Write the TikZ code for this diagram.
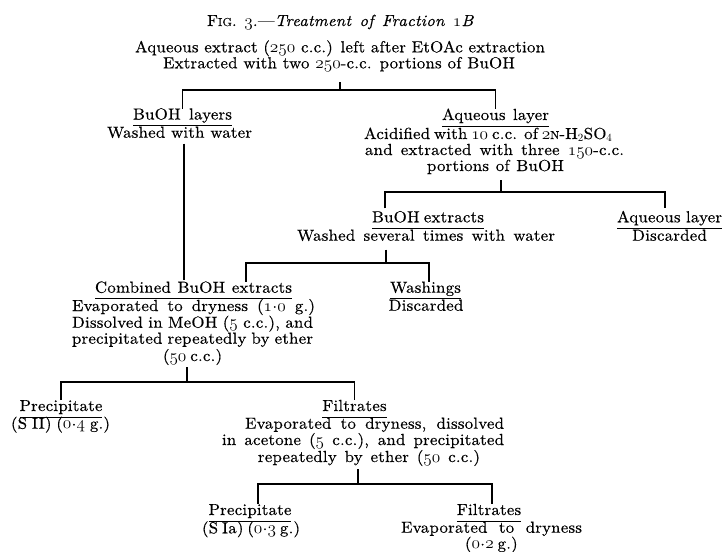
\documentclass[tikz,border=0pt]{standalone}
\usepackage{fontspec}
\newfontfamily\lmwide{lmroman10-regular.otf}[ItalicFont=lmroman10-italic.otf, FakeStretch=1.05, LetterSpace=1.5, FakeBold=0.4]
\newcommand\fs{\lmwide\fontsize{16}{16}\selectfont}
\newcommand\osn[1]{{\fontencoding{OML}\fontfamily{lmm}\fontseries{m}\fontshape{it}\selectfont #1}}
\newcommand\smc[1]{{\fontsize{11.5}{11.5}\selectfont #1}}
\newcommand\cdt{\kern0.3pt\raisebox{0.2em}{.}\kern0.3pt}
\newcommand\sline[2]{\makebox[#1pt][s]{#2}}
\tikzset{
  txt/.style={font=\fs, inner sep=0pt, outer sep=0pt, anchor=base, text height=11pt, text depth=4pt},
  conn/.style={line width=1.4pt},
  ul/.style={line width=0.9pt},
}
\begin{document}
\begin{tikzpicture}[x=1pt,y=-1pt]
\path[fill=white, use as bounding box] (0,0) rectangle (724,552);
% texts
\node[txt] (title) at (340.5,26) {\sline{267}{F\smc{IG}. \osn{3}.—\textit{Treatment of Fraction} \osn{1}\textit{B}}};
\node[txt] (t1) at (340,52.3) {\sline{410}{Aqueous extract (\osn{250} c.c.) left after EtOAc extraction}};
\node[txt] (t2) at (339,68.3) {\sline{352}{Extracted with two \osn{250}-c.c. portions of BuOH}};
\node[txt] (hBL) at (182.5,119.5) {\sline{99}{BuOH layers}};
\node[txt] (wL) at (179.5,137.7) {\sline{145}{Washed with water}};
\node[txt] (hAL) at (495.5,120) {\sline{107}{Aqueous layer}};
\node[txt] (a1) at (486.5,139) {\sline{245}{Acidified with \osn{10} c.c. of \osn{2}\smc{N}-H$_2$SO$_4$}};
\node[txt] (a2) at (494.5,155) {\sline{259}{and extracted with three \osn{150}-c.c.}};
\node[txt] (a3) at (495.5,171) {\sline{137}{portions of BuOH}};
\node[txt] (hBE) at (428,222.3) {\sline{112}{BuOH extracts}};
\node[txt] (bE) at (426,240.7) {\sline{258}{Washed several times with water}};
\node[txt] (hAR) at (669.5,222.3) {\sline{105}{Aqueous layer}};
\node[txt] (dR) at (669.5,240.7) {Discarded};
\node[txt] (hCB) at (193.5,292.7) {\sline{197}{Combined BuOH extracts}};
\node[txt] (c1) at (193.5,311) {\sline{243}{Evaporated to dryness (\osn{1}\cdt\osn{0} g.)}};
\node[txt] (c2) at (192.5,327.7) {\sline{241}{Dissolved in MeOH (\osn{5} c.c.), and}};
\node[txt] (c3) at (192.5,343.7) {\sline{241}{precipitated repeatedly by ether}};
\node[txt] (c4) at (191.5,361) {\sline{57}{(\osn{50} c.c.)}};
\node[txt] (hW) at (425.5,292.7) {Washings};
\node[txt] (dW) at (426,310.7) {Discarded};
\node[txt] (hP1) at (61,411) {Precipitate};
\node[txt] (p1) at (60.5,428.7) {\sline{99}{(S II) (\osn{0}\cdt\osn{4} g.)}};
\node[txt] (hF1) at (354.5,411) {Filtrates};
\node[txt] (f1) at (374.5,428.7) {\sline{259}{Evaporated to dryness, dissolved}};
\node[txt] (f2) at (363,445) {\sline{282}{in acetone (\osn{5} c.c.), and precipitated}};
\node[txt] (f3) at (369,462) {\sline{222}{repeatedly by ether (\osn{50} c.c.)}};
\node[txt] (hP2) at (250,515) {Precipitate};
\node[txt] (p2) at (250,533.3) {\sline{96}{(S Ia) (\osn{0}\cdt\osn{3} g.)}};
\node[txt] (hF2) at (489,515) {Filtrates};
\node[txt] (e2) at (491.5,532.7) {\sline{181}{Evaporated to dryness}};
\node[txt] (g2) at (490,548.7) {\sline{50}{(\osn{0}\cdt\osn{2} g.)}};
% underlines
\foreach \n in {hBL,hAL,hBE,hAR,hCB,hW,hP1,hF1,hP2,hF2}
  \draw[ul] ([yshift=-2pt]\n.south west) -- ([yshift=-2pt]\n.south east);
% junctions
\coordinate (j1) at (340,90);
\coordinate (j2) at (501,192);
\coordinate (j2L) at (385,192);
\coordinate (j2R) at (665,192);
\coordinate (j3) at (386,263);
\coordinate (j3L) at (246,263);
\coordinate (j3R) at (429,263);
\coordinate (j4) at (187,382);
\coordinate (j5) at (358,484);
\coordinate (j5L) at (258,484);
\coordinate (j5R) at (492,484);
% connectors
\draw[conn, shorten <=10pt] (t2.south -| j1) -- (j1);
\draw[conn] (hBL.north) |- (j1) -| (hAL.north);
\draw[conn, shorten <=5pt] (a3.south -| j2) -- (j2);
\draw[conn, shorten <=3pt, shorten >=3pt] (hBE.north -| j2L) -- (j2L) -- (j2R) -- (hAR.north -| j2R);
\draw[conn, shorten <=5pt] (bE.south -| j3) -- (j3);
\draw[conn] (hCB.north -| j3L) -- (j3L) -- (j3R) -- (hW.north -| j3R);
\draw[conn, shorten <=2pt, shorten >=2pt] ([xshift=4.5pt]wL.south) -- ([xshift=-9.5pt]hCB.north);
\draw[conn, shorten <=2pt] (c4.south -| j4) -- (j4);
\draw[conn] (hP1.north) |- (j4) -| (hF1.north);
\draw[conn, shorten <=3pt] (f3.south -| j5) -- (j5);
\draw[conn] (hP2.north -| j5L) -- (j5L) -- (j5R) -- (hF2.north -| j5R);
\end{tikzpicture}
\end{document}
